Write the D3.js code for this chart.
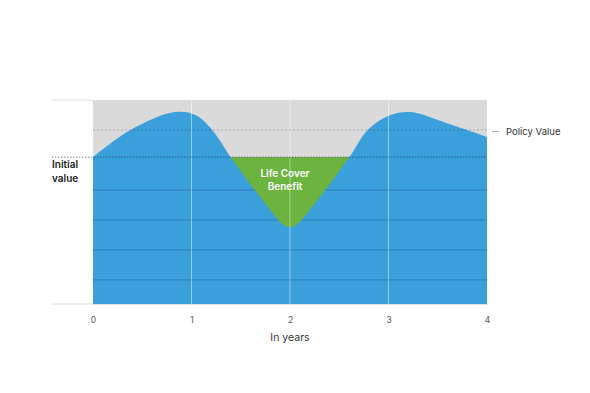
<!DOCTYPE html>
<html>
<head>
<meta charset="utf-8">
<script src="https://cdn.jsdelivr.net/npm/d3@7"></script>
<style>
html,body{margin:0;padding:0;background:#fff;}
svg{display:block;font-family:"Inter","Open Sans",sans-serif;}
</style>
</head>
<body>
<svg id="chart" width="590" height="393"></svg>
<script>
// ---- data ----
const years = [0, 0.38, 0.83, 1.04, 1.21, 1.396, 1.565, 1.72, 1.8, 1.88, 1.93, 2.0, 2.07, 2.12, 2.2, 2.28, 2.435, 2.604, 2.79, 3.02, 3.22, 3.6, 4.0];
const values = [72, 85.3, 94.1, 92.6, 85.3, 72, 60.8, 51, 46.1, 41.2, 39, 37.6, 39, 41.2, 46.1, 51, 60.8, 72, 85.3, 92.6, 94.1, 88.5, 81.9];
const xTicks = [0, 1, 2, 3, 4];
const gridValues = [11.8, 26.5, 41.2, 55.9];
const initialValue = 72;
const policyValue = 85.3;
const labels = { x: "In years", initial: ["Initial", "value"], policy: "Policy Value", benefit: ["Life Cover", "Benefit"] };

// ---- layout ----
const svg = d3.select("#chart");
const x = d3.scaleLinear().domain([0, 4]).range([93, 487]);
const y = d3.scaleLinear().domain([0, 100]).range([304, 100]);
const pts = years.map((t, i) => [t, values[i]]);

// gray background
svg.append("rect").attr("x", x(0)).attr("y", y(100)).attr("width", x(4) - x(0)).attr("height", y(0) - y(100)).attr("fill", "#dadada");
// top & base lines on left
svg.append("line").attr("x1", 52).attr("x2", x(0)).attr("y1", y(100)).attr("y2", y(100)).attr("stroke", "#dedede");
svg.append("line").attr("x1", 52).attr("x2", x(0)).attr("y1", y(0)).attr("y2", y(0)).attr("stroke", "#dedede");

// green (shows where curve dips below initial value)
svg.append("rect").attr("x", x(0)).attr("y", y(initialValue)).attr("width", x(4) - x(0)).attr("height", y(0) - y(initialValue)).attr("fill", "#6cb33f");

const area = d3.area().x(d => x(d[0])).y0(y(0)).y1(d => y(d[1])).curve(d3.curveCatmullRom.alpha(0.5));
svg.append("path").attr("d", area(pts)).attr("fill", "#3a9fdb");

// clip for grid lines within blue
svg.append("clipPath").attr("id", "blueclip").append("path").attr("d", area(pts));
svg.append("g").attr("clip-path", "url(#blueclip)").selectAll("line").data(gridValues).join("line")
  .attr("x1", x(0)).attr("x2", x(4)).attr("y1", d => y(d)).attr("y2", d => y(d))
  .attr("stroke", "#2c7fb6").attr("stroke-width", 1);

// vertical year lines
svg.selectAll(".vline").data(xTicks.slice(1, 4)).join("line").attr("class", "vline")
  .attr("x1", d => x(d)).attr("x2", d => x(d)).attr("y1", y(100)).attr("y2", y(0))
  .attr("stroke", "rgba(255,255,255,0.45)").attr("stroke-width", 1);

// policy value dashed line
svg.append("line").attr("x1", x(0)).attr("x2", x(4) + 3).attr("y1", y(policyValue)).attr("y2", y(policyValue))
  .attr("stroke", "rgba(0,0,0,0.22)").attr("stroke-dasharray", "2,2");
svg.append("line").attr("x1", 492).attr("x2", 499).attr("y1", y(policyValue) + 1.5).attr("y2", y(policyValue) + 1.5)
  .attr("stroke", "#888").attr("stroke-width", 0.7);
svg.append("text").attr("x", 506).attr("y", y(policyValue) + 5).attr("font-size", 9.5).attr("fill", "#333").text(labels.policy);

// initial value dotted line
svg.append("line").attr("x1", 52).attr("x2", x(4)).attr("y1", y(initialValue)).attr("y2", y(initialValue))
  .attr("stroke", "rgba(20,40,70,0.7)").attr("stroke-dasharray", "1.5,1.5").attr("stroke-width", 0.8);
svg.append("text").attr("x", 52).attr("font-size", 10).attr("font-weight", 600).attr("fill", "#222")
  .selectAll("tspan").data(labels.initial).join("tspan").attr("x", 52).attr("y", (d, i) => 168 + i * 14).text(d => d);

// benefit label
svg.append("text").attr("text-anchor", "middle").attr("font-size", 10).attr("font-weight", 600).attr("fill", "#fff")
  .selectAll("tspan").data(labels.benefit).join("tspan").attr("x", 285).attr("y", (d, i) => 177 + i * 13).text(d => d);

// x axis
const ax = svg.append("g").attr("transform", `translate(0,${y(0)})`)
  .call(d3.axisBottom(x).tickValues(xTicks).tickFormat(d3.format("d")).tickSize(0).tickPadding(13));
ax.select(".domain").attr("stroke", "#dedede");
ax.selectAll("text").attr("font-size", 8.5).attr("fill", "#555").attr("font-family", "Inter, sans-serif");
svg.append("text").attr("x", x(2)).attr("y", 341).attr("text-anchor", "middle").attr("font-size", 10.5).attr("fill", "#333").text(labels.x);
</script>
</body>
</html>
